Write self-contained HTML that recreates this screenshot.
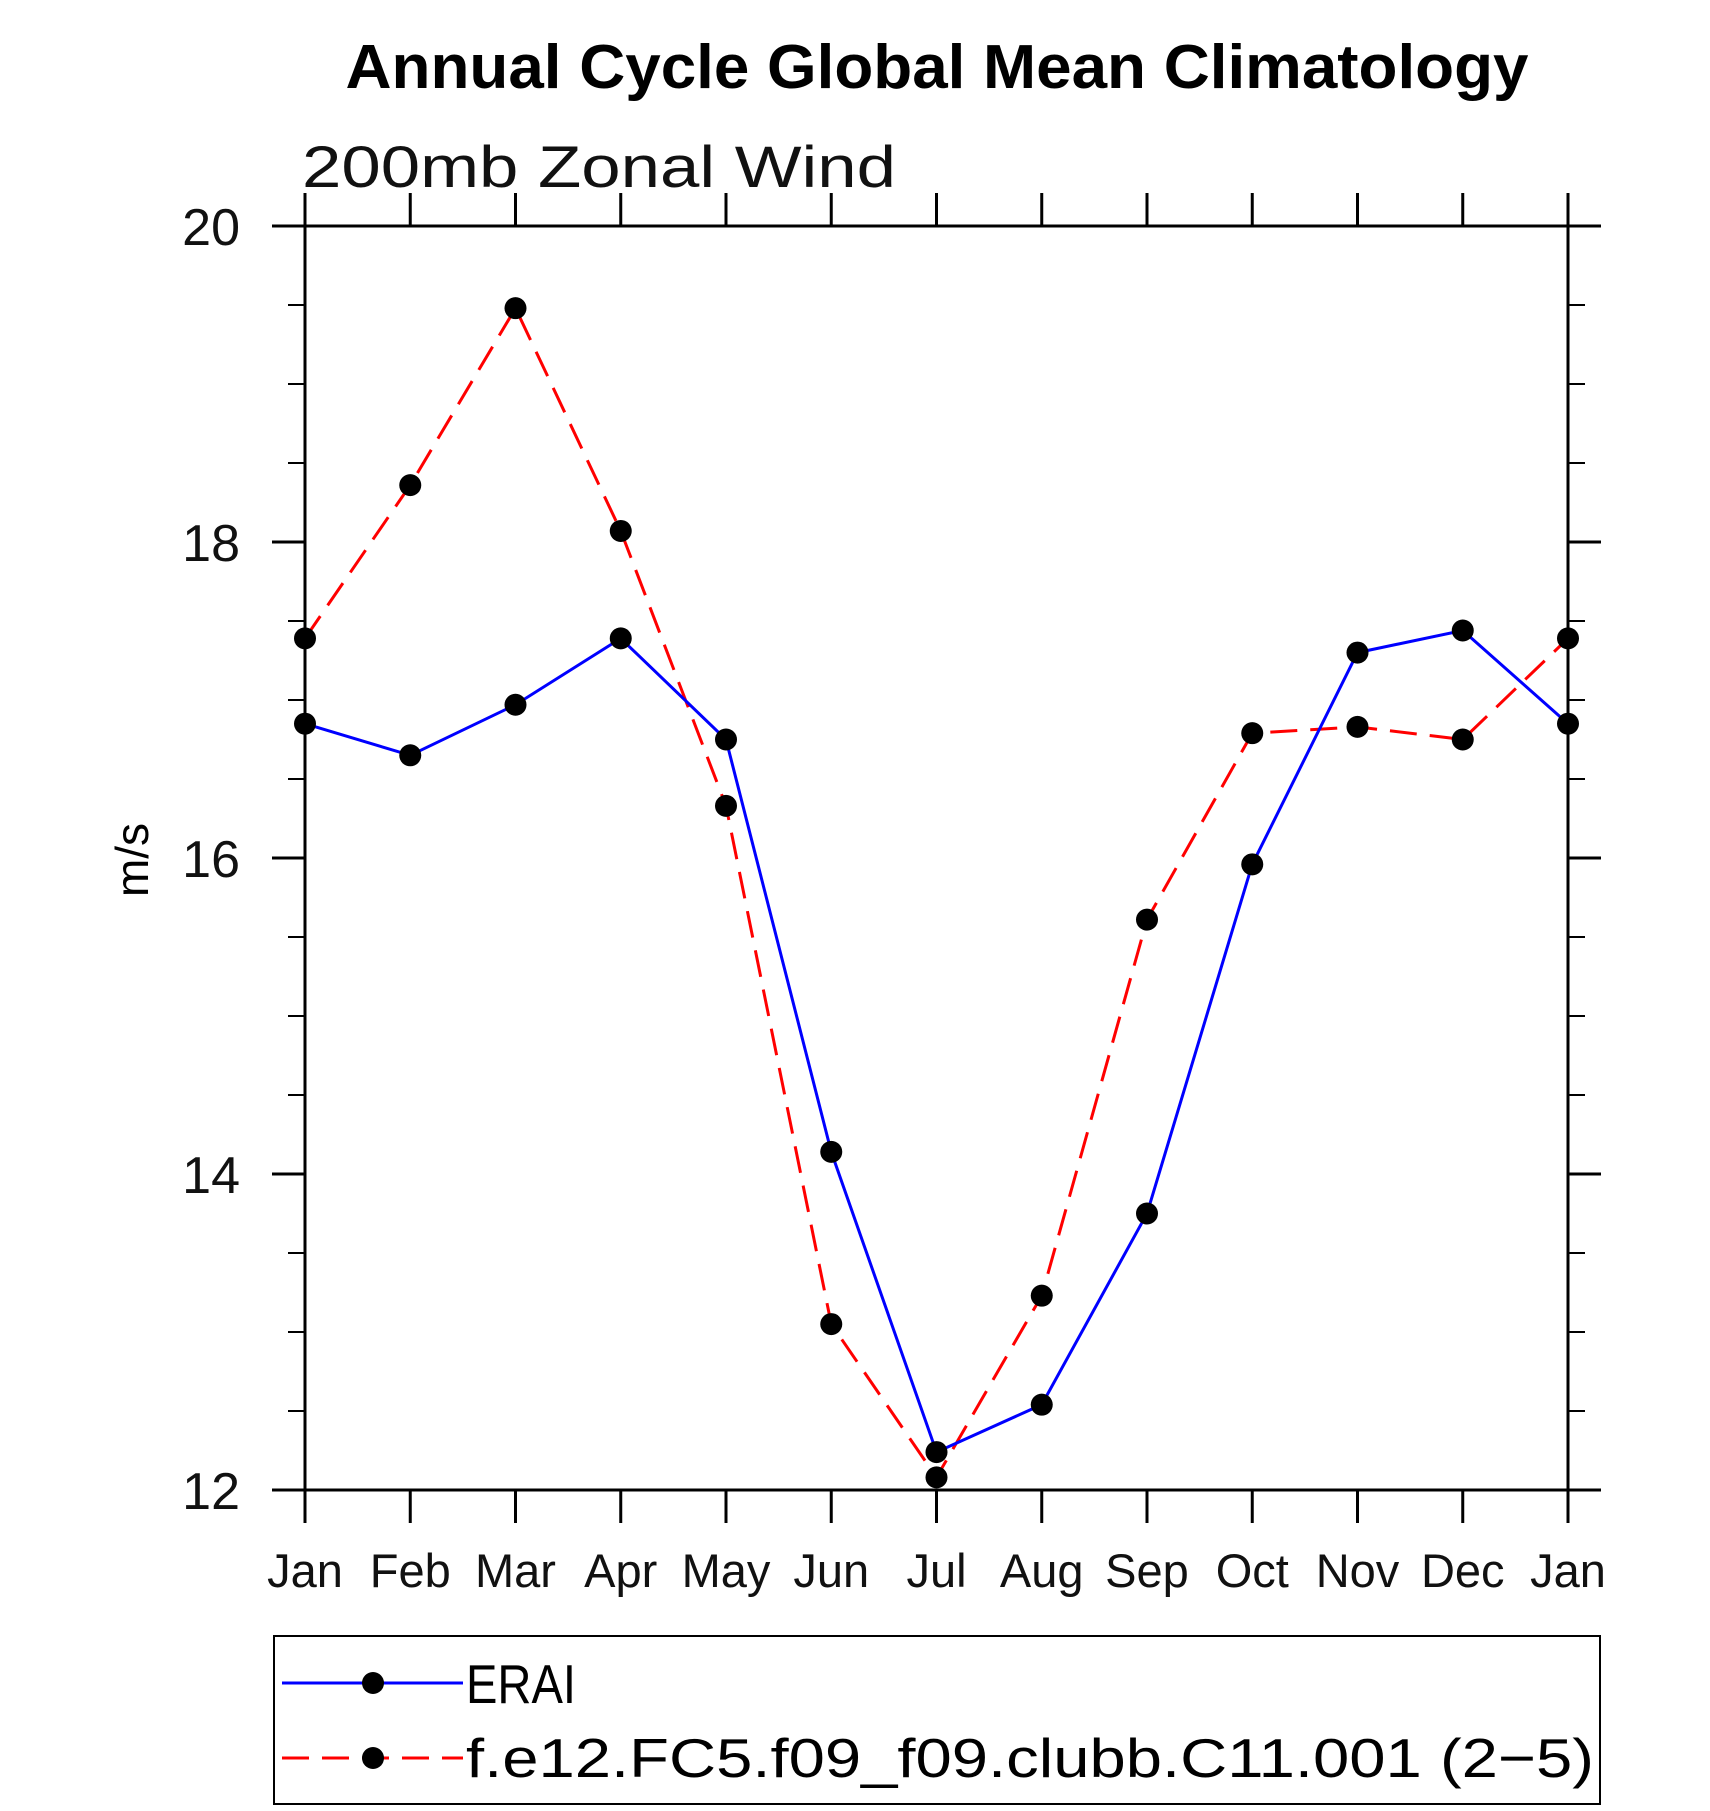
<!DOCTYPE html>
<html><head><meta charset="utf-8"><style>
html,body{margin:0;padding:0;background:#fff;}
svg{display:block;font-family:"Liberation Sans",sans-serif;}
</style></head><body>
<svg id="chart" width="1710" height="1811" viewBox="0 0 1710 1811">
<text x="937" y="88" text-anchor="middle" font-weight="bold" font-size="62" textLength="1183" lengthAdjust="spacingAndGlyphs">Annual Cycle Global Mean Climatology</text>
<text x="302" y="187" font-size="58" textLength="594" lengthAdjust="spacingAndGlyphs" fill="#111">200mb  Zonal  Wind</text>
<text transform="translate(148,860) rotate(-90)" text-anchor="middle" font-size="46">m/s</text>
<g id="axes"></g>
<g id="series"></g>
<g id="legend">
<rect x="274" y="1636" width="1326" height="168" fill="none" stroke="#000" stroke-width="2"/>
<g>
<line x1="282" y1="1683" x2="463" y2="1683" stroke="#0000ff" stroke-width="3"/>
<circle cx="373" cy="1683" r="11"/>
<text x="466" y="1703" font-size="55" textLength="110" lengthAdjust="spacingAndGlyphs">ERAI</text>
</g>
<g>
<line x1="282" y1="1758" x2="463" y2="1758" stroke="#ff0000" stroke-width="3" stroke-dasharray="27,13"/>
<circle cx="373" cy="1758" r="11"/>
<text x="466" y="1777" font-size="55" textLength="1128" lengthAdjust="spacingAndGlyphs">f.e12.FC5.f09_f09.clubb.C11.001 (2−5)</text>
</g>
</g>
</svg>
<script>
const months = ["Jan","Feb","Mar","Apr","May","Jun","Jul","Aug","Sep","Oct","Nov","Dec","Jan"];
const eraiValues = [16.85,16.65,16.97,17.39,16.75,14.14,12.24,12.54,13.75,15.96,17.30,17.44,16.85];
const modelValues = [17.39,18.36,19.48,18.07,16.33,13.05,12.08,13.23,15.61,16.79,16.83,16.75,17.39];
const yTicks = [12,14,16,18,20];

const NS = "http://www.w3.org/2000/svg";
const X0 = 305, X1 = 1568, Y0 = 1490, Y1 = 226, YMIN = 12, YMAX = 20;
const xs = i => X0 + (X1 - X0) * i / (months.length - 1);
const ys = v => Y0 - (v - YMIN) / (YMAX - YMIN) * (Y0 - Y1);
function mk(tag, attrs, parent) {
  const e = document.createElementNS(NS, tag);
  for (const k in attrs) e.setAttribute(k, attrs[k]);
  parent.appendChild(e);
  return e;
}
const axes = document.getElementById('axes');
const frame = mk('rect', {x:X0, y:Y1, width:X1-X0, height:Y0-Y1, fill:'none', stroke:'#000', 'stroke-width':3}, axes);


months.forEach((m, i) => {
  const x = xs(i);
  mk('line', {x1:x, y1:Y0, x2:x, y2:Y0+33, stroke:'#000', 'stroke-width':3}, axes);
  mk('line', {x1:x, y1:Y1, x2:x, y2:Y1-33, stroke:'#000', 'stroke-width':3}, axes);
  const t = mk('text', {x:x, y:1587, 'text-anchor':'middle', 'font-size':47, fill:'#111'}, axes);
  t.textContent = m;
  
  
});
for (let v = YMIN; v <= YMAX + 1e-9; v += 0.5) {
  const y = ys(v);
  const major = Math.abs(v - Math.round(v / 2) * 2) < 1e-9;
  const len = major ? 33 : 17;
  mk('line', {x1:X0-len, y1:y, x2:X0, y2:y, stroke:'#000', 'stroke-width':major?3:2}, axes);
  mk('line', {x1:X1, y1:y, x2:X1+len, y2:y, stroke:'#000', 'stroke-width':major?3:2}, axes);
}
yTicks.forEach(v => {
  const t = mk('text', {x:240, y:ys(v)+19, 'text-anchor':'end', 'font-size':52, fill:'#111'}, axes);
  t.textContent = v;
  
  
});
const series = document.getElementById('series');
function draw(vals, color, dash, name) {
  const g = mk('g', {}, series);
  
  
  const pts = vals.map((v, i) => xs(i) + ',' + ys(v)).join(' ');
  const attrs = {points:pts, fill:'none', stroke:color, 'stroke-width':3};
  if (dash) attrs['stroke-dasharray'] = dash;
  const pl = mk('polyline', attrs, g);
  
  
  vals.forEach((v, i) => {
    const c = mk('circle', {cx:xs(i), cy:ys(v), r:11, fill:'#000'}, g);
    
    
  });
}
draw(modelValues, '#ff0000', '27,13', 'model-series');
draw(eraiValues, '#0000ff', null, 'erai-series');
</script>
</body></html>
